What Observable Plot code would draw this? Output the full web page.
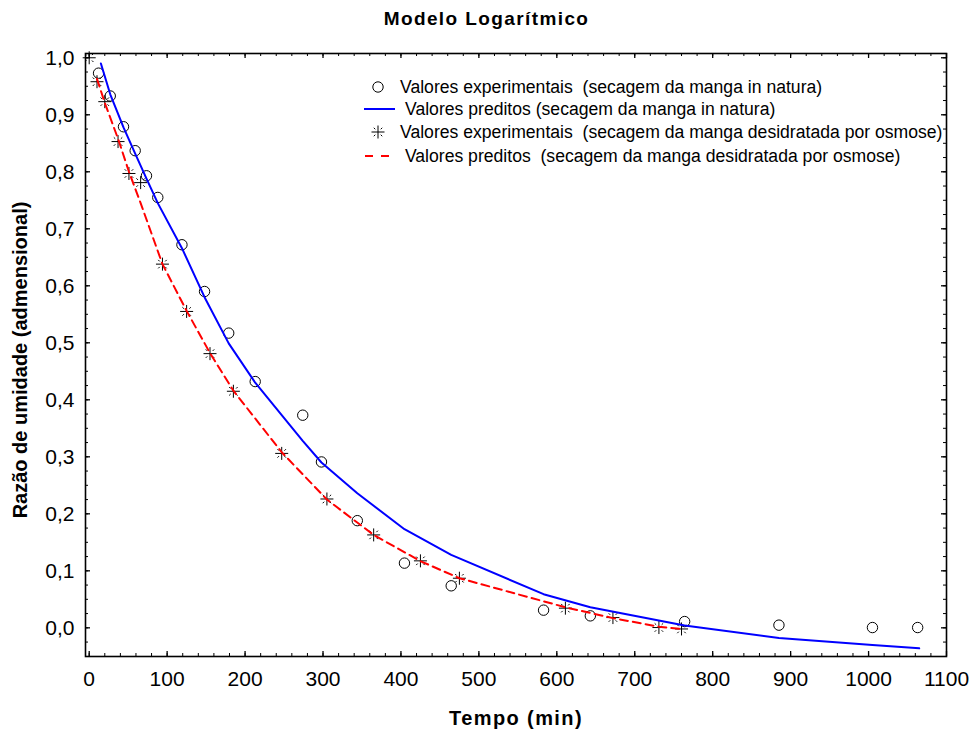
<!DOCTYPE html>
<html>
<head>
<meta charset="utf-8">
<script src="https://cdn.jsdelivr.net/npm/d3@7"></script>
<script src="https://cdn.jsdelivr.net/npm/@observablehq/plot@0.6"></script>
<style>
  html, body { margin: 0; padding: 0; background: #fff; }
  #chart svg { display: block; }
</style>
</head>
<body>
<div id="chart"></div>
<script>
// ---------- data ----------
const circleTime = [12, 27, 44, 59, 73.5, 88, 119, 148, 179, 213, 274, 298, 344, 404.5, 464.5, 583, 643, 764, 885, 1005, 1063];
const circleMR   = [0.973, 0.933, 0.879, 0.837, 0.793, 0.755, 0.672, 0.590, 0.517, 0.432, 0.373, 0.291, 0.188, 0.1135, 0.0737, 0.031, 0.021, 0.011, 0.0047, 0.0005, 0.0005];

const blueTime = [15, 27, 44, 59, 73.5, 88, 119, 148, 179, 213, 274, 298, 344, 404.5, 464.5, 583, 643, 764, 885, 1005, 1065];
const blueMR   = [0.99, 0.936, 0.878, 0.832, 0.788, 0.745, 0.666, 0.580, 0.499, 0.430, 0.328, 0.29, 0.236, 0.173, 0.128, 0.059, 0.036, 0.004, -0.018, -0.030, -0.036];

const starTime = [0, 10, 20, 37, 51, 66, 94, 125, 155, 185, 247, 305, 365, 425, 475, 611, 672, 731, 760];
const starMR   = [1.0, 0.958, 0.923, 0.853, 0.797, 0.781, 0.638, 0.555, 0.481, 0.415, 0.306, 0.226, 0.163, 0.1175, 0.087, 0.0345, 0.018, 0.0005, -0.002];

const redTime = [10, 20, 37, 51, 66, 94, 125, 155, 185, 247, 305, 365, 425, 475, 611, 672, 731, 760];
const redMR   = [0.963, 0.921, 0.858, 0.80, 0.745, 0.638, 0.556, 0.482, 0.416, 0.308, 0.225, 0.163, 0.117, 0.087, 0.036, 0.017, 0.002, -0.002];

const xTicks = [0, 100, 200, 300, 400, 500, 600, 700, 800, 900, 1000, 1100];
const yTicks = [0, 0.1, 0.2, 0.3, 0.4, 0.5, 0.6, 0.7, 0.8, 0.9, 1.0];
const xMinorTicks = d3.range(0, 1101, 20);
const yMinorTicks = d3.range(-0.025, 1.001, 0.025);

const titleText = "Modelo Logarítmico";
const xTitle = "Tempo (min)";
const yTitle = "Razão de umidade (admensional)";
const legendLabels = [
  "Valores experimentais  (secagem da manga in natura)",
  "Valores preditos (secagem da manga in natura)",
  "Valores experimentais  (secagem da manga desidratada por osmose)",
  " Valores preditos  (secagem da manga desidratada por osmose)"
];

// ---------- build tables ----------
const circles = circleTime.map((t, i) => ({t, mr: circleMR[i]}));
const blue = blueTime.map((t, i) => ({t, mr: blueMR[i]}));
const stars = starTime.map((t, i) => ({t, mr: starMR[i]}));
const red = redTime.map((t, i) => ({t, mr: redMR[i]}));

const FONT = "'Liberation Sans', Arial, Helvetica, sans-serif";
const W = 972, H = 734, ML = 85, MR = 26, MT = 53, MB = 78;
const FW = W - ML - MR, FH = H - MT - MB;

// Statistica-like asterisk: plus sign + four short detached diagonals
function drawStar(ctx, r) {
  ctx.moveTo(-r, 0); ctx.lineTo(r, 0);
  ctx.moveTo(0, -r); ctx.lineTo(0, r);
  const a = r * 0.42, b = r * 0.92 / Math.SQRT2;
  for (const [sx, sy] of [[1,1],[1,-1],[-1,1],[-1,-1]]) {
    ctx.moveTo(sx * a, sy * a); ctx.lineTo(sx * b, sy * b);
  }
}
const starSymbol = { draw(ctx, size) { drawStar(ctx, Math.sqrt(size / Math.PI)); } };

const chart = Plot.plot({
  width: W, height: H,
  marginLeft: ML, marginRight: MR, marginTop: MT, marginBottom: MB,
  style: { fontFamily: FONT, background: "#fff", color: "#000" },
  x: { domain: [-4.75, 1100] },
  y: { domain: [-0.0503, 1.0075] },
  marks: [
    // markers
    Plot.dot(circles, { x: "t", y: "mr", r: 5.2, stroke: "#000", strokeWidth: 1, fill: "none" }),
    Plot.dot(stars, { x: "t", y: "mr", r: 6.5, symbol: starSymbol, stroke: "#000", strokeWidth: 1, fill: "none" }),
    // predicted curves
    Plot.line(blue, { x: "t", y: "mr", stroke: "#0000ff", strokeWidth: 2 }),
    Plot.line(red, { x: "t", y: "mr", stroke: "#ff0000", strokeWidth: 2, strokeDasharray: "8,5" }),
    // inward ticks on all four sides
    Plot.tickX(xMinorTicks, { x: d => d, insetTop: FH - 3, stroke: "#000", strokeWidth: 1 }),
    Plot.tickX(xTicks, { x: d => d, insetTop: FH - 5, stroke: "#000", strokeWidth: 1.3 }),
    Plot.tickX(xMinorTicks, { x: d => d, insetBottom: FH - 3, stroke: "#000", strokeWidth: 1 }),
    Plot.tickX(xTicks, { x: d => d, insetBottom: FH - 5, stroke: "#000", strokeWidth: 1.3 }),
    Plot.tickY(yMinorTicks, { y: d => d, insetRight: FW - 3, stroke: "#000", strokeWidth: 1 }),
    Plot.tickY(yTicks, { y: d => d, insetRight: FW - 5, stroke: "#000", strokeWidth: 1.3 }),
    Plot.tickY(yMinorTicks, { y: d => d, insetLeft: FW - 3, stroke: "#000", strokeWidth: 1 }),
    Plot.tickY(yTicks, { y: d => d, insetLeft: FW - 5, stroke: "#000", strokeWidth: 1.3 }),
    // axes labels
    Plot.axisX({ ticks: xTicks, tickSize: 0, tickPadding: 15, fontSize: 21, label: null, tickFormat: d => String(d) }),
    Plot.axisY({ ticks: yTicks, tickSize: 0, tickPadding: 11, fontSize: 21, label: null, tickFormat: d => d.toFixed(1).replace(".", ",") }),
    Plot.frame({ stroke: "#000", strokeWidth: 1.6 }),
    // titles
    Plot.text([titleText], { text: d => d, frameAnchor: "top", textAnchor: "middle", lineAnchor: "middle", dx: -29.5, dy: -35, fontSize: 19, fontWeight: "bold", fill: "#000" }),
    Plot.text([xTitle], { text: d => d, frameAnchor: "bottom", textAnchor: "middle", lineAnchor: "middle", dy: 62, fontSize: 20, fontWeight: "bold", fill: "#000" }),
    Plot.text([yTitle], { text: d => d, frameAnchor: "left", textAnchor: "middle", lineAnchor: "middle", dx: -65, dy: 5, rotate: -90, fontSize: 20, fontWeight: "bold", fill: "#000" })
  ]
});

document.getElementById("chart").appendChild(chart);

const svg = d3.select(chart);
// letter spacing for the chart title and the x-axis title
svg.selectAll("text").filter(function () { return this.textContent === titleText; }).attr("letter-spacing", 1.4);
svg.selectAll("text").filter(function () { return this.textContent === xTitle; }).attr("letter-spacing", 1.4);

// ---------- legend (inside the plot, top right) ----------
const lg = svg.append("g").attr("font-family", FONT).attr("font-size", 17.6).attr("fill", "#000").attr("text-anchor", "start");
const rowsY = [87, 109, 132, 156];
const textX = [400, 405, 400, 400];
// row 1: circle
lg.append("circle").attr("cx", 378).attr("cy", rowsY[0]).attr("r", 5.2).attr("fill", "none").attr("stroke", "#000");
// row 2: blue line
lg.append("line").attr("x1", 364).attr("x2", 395).attr("y1", rowsY[1]).attr("y2", rowsY[1]).attr("stroke", "#0000ff").attr("stroke-width", 2);
// row 3: asterisk
{
  const p = d3.path(); drawStar(p, 6.5);
  lg.append("path").attr("transform", `translate(378,${rowsY[2]})`).attr("d", p.toString()).attr("stroke", "#000").attr("fill", "none");
}
// row 4: red dashes
lg.append("line").attr("x1", 365).attr("x2", 389).attr("y1", rowsY[3]).attr("y2", rowsY[3]).attr("stroke", "#ff0000").attr("stroke-width", 2).attr("stroke-dasharray", "8,8");
legendLabels.forEach((s, i) => {
  lg.append("text").attr("x", textX[i]).attr("y", rowsY[i]).attr("dy", "0.35em").attr("text-anchor", "start").style("white-space", "pre").text(s);
});
</script>
</body>
</html>
